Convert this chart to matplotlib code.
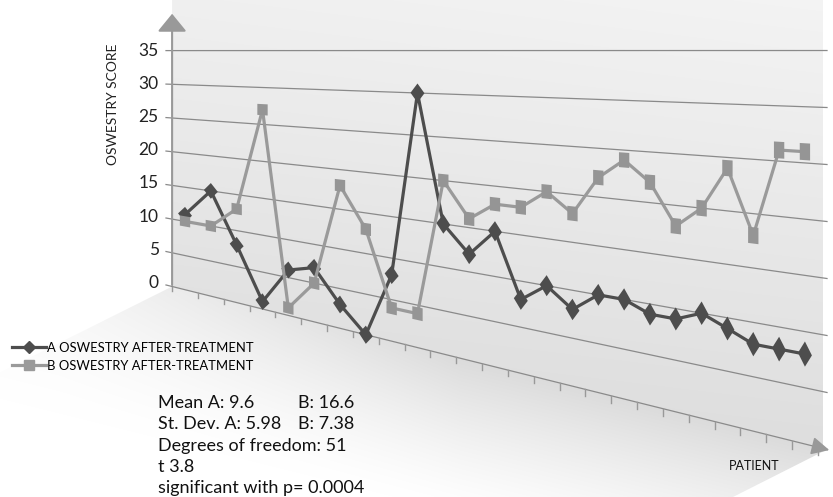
import numpy as np
import matplotlib.pyplot as plt
from matplotlib import transforms as mtransforms
from matplotlib.patches import Polygon
from matplotlib.lines import Line2D

# Oswestry score per patient, after treatment
patients = np.arange(25)
score_a = [11, 15, 8, 1, 6, 7, 3, 0, 8, 30, 15, 12, 15, 8, 10, 8, 10, 10, 9, 9, 10, 9, 8, 8, 8]
score_b = [10, 10, 13, 27, 1, 5, 18, 13, 4, 4, 20, 16, 18, 18, 20, 18, 22, 24, 22, 18, 20, 24, 18, 26, 26]
y_ticks = [0, 5, 10, 15, 20, 25, 30, 35]
labels = ['A OSWESTRY AFTER-TREATMENT', 'B OSWESTRY AFTER-TREATMENT']
stats = [('Mean A: 9.6', 'B: 16.6'),
         ('St. Dev. A: 5.98', 'B: 7.38'),
         ('Degrees of freedom: 51', ''),
         ('t 3.8', ''),
         ('significant with p= 0.0004', '')]

plt.rcParams['font.family'] = ['Lato', 'DejaVu Sans']

# perspective of the back wall, in pixels
X0, DX = 172.1, 25.83          # x of first category boundary, width of a category
Y0, BASE_SLOPE = 286.5, 0.2489  # baseline (value 0) and how it drops to the right
S0, S_SLOPE = 6.74, 0.007115    # pixels per score unit, growing to the right
W_RIGHT = 823


class WallTransform(mtransforms.Transform):
    input_dims = 2
    output_dims = 2
    is_separable = False
    has_inverse = False

    def transform_non_affine(self, values):
        values = np.asarray(values, dtype=float).reshape(-1, 2)
        x = X0 + DX * values[:, 0]
        dx = x - X0
        y = Y0 + BASE_SLOPE * dx - values[:, 1] * (S0 + S_SLOPE * dx)
        return np.column_stack([x, y])


fig = plt.figure(figsize=(8.33, 4.97), dpi=100)
ax = fig.add_axes([0, 0, 1, 1])
ax.set_xlim(0, 833)
ax.set_ylim(497, 0)
ax.axis('off')
ax.set_autoscale_on(False)
wall = WallTransform() + ax.transData


def base_y(x):
    return Y0 + BASE_SLOPE * (x - X0)


# back wall with soft gradient
yy, xx = np.mgrid[0:460, 0:834]
g = 0.955 - 0.085 * (yy / 450.0) - 0.015 * (1 - (xx - X0) / (W_RIGHT - X0))
img = ax.imshow(np.dstack([g, g, g]).clip(0, 1), extent=[0, 834, 460, 0],
                interpolation='bilinear', zorder=0)
wall_poly = Polygon([(X0, 0), (W_RIGHT, 0), (W_RIGHT, base_y(W_RIGHT)), (X0, Y0)],
                    closed=True, transform=ax.transData, facecolor='none', edgecolor='none')
ax.add_patch(wall_poly)
img.set_clip_path(wall_poly)

# floor fading out towards the front
yy, xx = np.mgrid[0:497, 0:834]
nx, ny = -163.0, 655.0
nl = np.hypot(nx, ny)
d = ((xx - X0) * nx + (yy - Y0) * ny) / nl
fade = np.clip(d / 150.0, 0, 1)
side = np.clip((xx - 60) / 400.0, 0, 1)
g2 = 1 - 0.14 * (1 - fade) ** 1.3 * (0.35 + 0.65 * side)
img2 = ax.imshow(np.dstack([g2, g2, g2]).clip(0, 1), extent=[0, 834, 497, 0],
                 interpolation='bilinear', zorder=0)
floor_poly = Polygon([(X0, Y0), (827, base_y(827)), (733, 497), (0, 497), (0, Y0 + 0.5 * X0)],
                     closed=True, transform=ax.transData, facecolor='none', edgecolor='none')
ax.add_patch(floor_poly)
img2.set_clip_path(floor_poly)

# gridlines and tick labels
c_left = (166 - X0) / DX
c_right = (827 - X0) / DX
for v in y_ticks:
    ax.plot([c_left, c_right], [v, v], transform=wall, color='#8a8a8a', lw=0.9, zorder=1)
    ax.text(-0.52, v, str(v), transform=wall, ha='right', va='center',
            fontsize=12.5, color='#222222')

# category axis with ticks and arrow
for k in range(len(patients) + 1):
    ax.plot([k, k], [0, -0.7], transform=wall, color='#999999', lw=1, zorder=1)
ax.annotate('', xy=((832 - X0) / DX, 0), xytext=(c_right - 0.5, 0),
            xycoords=wall, textcoords=wall,
            arrowprops=dict(arrowstyle='-|>,head_length=0.9,head_width=0.45',
                            color='#999999', lw=1.2, mutation_scale=12))
# value axis with arrow
ax.annotate('', xy=(0, (Y0 - 11) / S0), xytext=(0, -0.2),
            xycoords=wall, textcoords=wall,
            arrowprops=dict(arrowstyle='-|>,head_length=0.55,head_width=0.45',
                            color='#999999', lw=1.5, mutation_scale=20))

ax.text(113, 104, 'OSWESTRY SCORE', rotation=90, ha='center', va='center',
        fontsize=10, color='#222222')
ax.text(729, 466, 'PATIENT', ha='left', va='center', fontsize=9, color='#111111')

# series lines and markers, drawn on the wall plane
pos = patients + 0.5
color_a, color_b = '#4d4d4d', '#9a9a9a'
ax.plot(pos, score_a, transform=wall, color=color_a, lw=2.3, zorder=3)
for c, v in zip(pos, score_a):
    ax.add_patch(Polygon([(c - 0.27, v), (c, v + 1.12), (c + 0.27, v), (c, v - 1.12)],
                         closed=True, transform=wall, facecolor=color_a,
                         edgecolor='none', zorder=4))
ax.plot(pos, score_b, transform=wall, color=color_b, lw=2.3, zorder=5)
for c, v in zip(pos, score_b):
    ax.add_patch(Polygon([(c - 0.2, v - 0.75), (c - 0.2, v + 0.75), (c + 0.2, v + 0.75),
                          (c + 0.2, v - 0.75)],
                         closed=True, transform=wall, facecolor='#959595',
                         edgecolor='none', zorder=6))

handles = [Line2D([], [], color=color_a, lw=2.3, marker='D', markersize=6.5),
           Line2D([], [], color=color_b, lw=2.3, marker='s', markersize=7)]
ax.legend(handles, labels, loc='upper left', bbox_to_anchor=(12, 342),
          bbox_transform=ax.transData, frameon=False, fontsize=9.4,
          handlelength=2.6, handletextpad=0.1, labelspacing=0.45,
          borderpad=0, borderaxespad=0)

# t-test summary
for i, (left, right) in enumerate(stats):
    y = 403 + 21.3 * i
    ax.text(158, y, left, ha='left', va='center', fontsize=13, color='#111111')
    if right:
        ax.text(298, y, right, ha='left', va='center', fontsize=13, color='#111111')

fig.savefig('out.png', dpi=100)
